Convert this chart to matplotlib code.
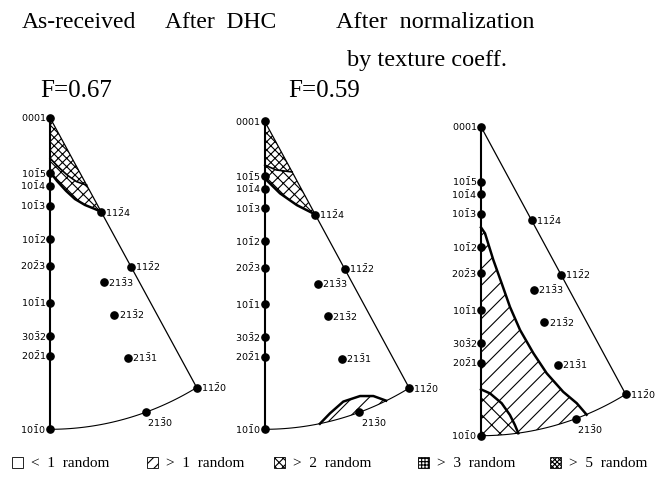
# Inverse pole figures (hcp Zr) - as-received, after DHC, normalised
import numpy as np
import matplotlib.pyplot as plt
from matplotlib.patches import Polygon, Rectangle

plt.rcParams['font.family'] = ['Liberation Serif', 'DejaVu Serif']
plt.rcParams['mathtext.fontset'] = 'dejavusans'
plt.rcParams['hatch.linewidth'] = 0.8

W, H = 660, 486
c_over_a = 1.593   # Zr

# poles (h k i l), i = -(h+k)
pole_h = [0, 1, 1, 1, 1, 2, 1, 3, 2, 1, 1, 1, 1, 2, 2, 2, 2]
pole_k = [0, 0, 0, 0, 0, 0, 0, 0, 0, 0, 1, 1, 1, 1, 1, 1, 1]
pole_l = [1, 5, 4, 3, 2, 3, 1, 2, 1, 0, 4, 2, 0, 3, 2, 1, 0]

titles = ['As-received', 'After  DHC', 'After  normalization']
subtitle = 'by texture coeff.'
f_values = ['F=0.67', 'F=0.59']

# contour boundaries (projection coords)
p1_gt2_x = [0, 0.024, 0.055, 0.085, 0.119, 0.153, 0.1745]
p1_gt2_y = [-0.174, -0.203, -0.235, -0.261, -0.280, -0.293, -0.302]
p1_gt3_x = [0, 0.03, 0.06, 0.09, 0.125]
p1_gt3_y = [-0.13, -0.16, -0.185, -0.205, -0.2165]

p2_gt2_x = [0, 0.053, 0.111, 0.157, 0.1745]
p2_gt2_y = [-0.185, -0.234, -0.272, -0.294, -0.302]
p2_gt3_x = [0, 0.04, 0.095]
p2_gt3_y = [-0.142, -0.158, -0.1645]
p2_gt1_x = [0.191, 0.226, 0.272, 0.330, 0.376, 0.420]
p2_gt1_y = [-0.982, -0.948, -0.910, -0.892, -0.892, -0.907]

p3_gt1_x = [0, 0.0138, 0.0425, 0.0715, 0.100, 0.135, 0.181, 0.227, 0.284, 0.331, 0.365]
p3_gt1_y = [-0.326, -0.345, -0.431, -0.507, -0.583, -0.658, -0.733, -0.798, -0.858, -0.895, -0.932]
p3_gt2_x = [0, 0.031, 0.0715, 0.100, 0.117, 0.129]
p3_gt2_y = [-0.850, -0.863, -0.895, -0.933, -0.965, -0.992]

legend_labels = ['<  1  random', '>  1  random', '>  2  random', '>  3  random', '>  5  random']
legend_hatch = ['', '///', 'xxxx', '+++++', 'xxxxxxx']


def project(h, k, l):
    # stereographic projection, 0001 at centre, 10-10 straight down
    gx = h + 0.5 * k
    gy = np.sqrt(3) / 2 * k
    g = np.hypot(gx, gy) * 2 / np.sqrt(3) * c_over_a
    phi = np.arctan2(g, l)
    psi = np.arctan2(gy, gx)
    r = np.tan(phi / 2)
    return r * np.sin(psi), -r * np.cos(psi)


def arc(p0, p1, n=40):
    t = np.linspace(p0, p1, n)
    return np.sin(t), -np.cos(t)


def label(h, k, l):
    i = -(h + k)
    if i == 0:
        return '$%d%d0%d$' % (h, k, l)
    return '$%d%d\\bar{%d}%d$' % (h, k, -i, l)


fig = plt.figure(figsize=(W / 100, H / 100), dpi=100)

xlim = (-0.35, 0.65)
ylim = (-1.12, 0.1)
origins = [(50, 117.7), (264.7, 121.3), (481, 126.7)]
scales = [(293.4, 311.6), (289, 308), (289.4, 309)]

axes = []
for (ox, oy), (sx, sy) in zip(origins, scales):
    left = (ox + sx * xlim[0]) / W
    bottom = 1 - (oy - sy * ylim[0]) / H
    ax = fig.add_axes([left, bottom, sx * (xlim[1] - xlim[0]) / W,
                       sy * (ylim[1] - ylim[0]) / H])
    ax.set_xlim(xlim)
    ax.set_ylim(ylim)
    ax.axis('off')
    axes.append(ax)


def region(ax, xs, ys, hatch, face='none'):
    poly = Polygon(np.column_stack([xs, ys]), closed=True, facecolor=face,
                   edgecolor='black', lw=0, hatch=hatch, zorder=1)
    ax.add_patch(poly)


def top_region(ax, cx, cy, hatch, face='none', lw=1.8):
    # region bounded by left edge, a curve and the 0001-11-20 edge
    xs = [0] + list(cx)
    ys = [0] + list(cy)
    region(ax, xs, ys, hatch, face)
    ax.plot(cx, cy, color='black', lw=lw, zorder=3)


def bottom_region(ax, cx, cy, hatch, face='none', to_corner=False):
    # region bounded by a curve and the primitive circle
    a0 = np.arctan2(cx[0], -cy[0])
    a1 = np.arctan2(cx[-1], -cy[-1])
    ax_, ay_ = arc(a1, 0 if to_corner else a0)
    xs = list(cx) + list(ax_)
    ys = list(cy) + list(ay_)
    region(ax, xs, ys, hatch, face)
    ax.plot(cx, cy, color='black', lw=1.8, zorder=3)


for ax in axes:
    # triangle edges
    x11, y11 = project(1, 1, 0)
    ax.plot([0, 0], [0, -1], color='black', lw=1.5, zorder=2)
    ax.plot([0, x11], [0, y11], color='black', lw=0.9, zorder=2)
    bx, by = arc(0, np.pi / 6)
    ax.plot(bx, by, color='black', lw=0.8, zorder=2)

# contoured regions
top_region(axes[0], p1_gt2_x, p1_gt2_y, 'xxx', 'white')
top_region(axes[0], p1_gt3_x, p1_gt3_y, 'xxxx', 'white', lw=1.2)
top_region(axes[1], p2_gt2_x, p2_gt2_y, 'xxx', 'white')
top_region(axes[1], p2_gt3_x, p2_gt3_y, 'xxxx', 'white', lw=1.2)
bottom_region(axes[1], p2_gt1_x, p2_gt1_y, '//')
bottom_region(axes[2], p3_gt1_x, p3_gt1_y, '//', to_corner=True)
bottom_region(axes[2], p3_gt2_x, p3_gt2_y, 'xx', 'white', to_corner=True)

# poles
for ax in axes:
    for h, k, l in zip(pole_h, pole_k, pole_l):
        x, y = project(h, k, l)
        ax.plot(x, y, 'o', ms=5.2, color='black', zorder=4, clip_on=False)
        if k == 0:
            off, ha, va = (-3, 0), 'right', 'center'
        elif l == 0 and h == 2:
            off, ha, va = (1, -3), 'left', 'top'
        else:
            off, ha, va = (3, 0), 'left', 'center'
        ax.annotate(label(h, k, l), (x, y), xytext=off, textcoords='offset points',
                    ha=ha, va=va, fontsize=6.8, zorder=5)

# titles
fig.text(79 / W, 1 - 28 / H, titles[0], ha='center', va='baseline', fontsize=17)
fig.text(221 / W, 1 - 28 / H, titles[1], ha='center', va='baseline', fontsize=17)
fig.text(435 / W, 1 - 28 / H, titles[2], ha='center', va='baseline', fontsize=17.5)
fig.text(427 / W, 1 - 66 / H, subtitle, ha='center', va='baseline', fontsize=17.5)
fig.text(76 / W, 1 - 97 / H, f_values[0], ha='center', va='baseline', fontsize=18)
fig.text(324 / W, 1 - 97 / H, f_values[1], ha='center', va='baseline', fontsize=18)

# legend
lax = fig.add_axes([0, 0, 1, 1])
lax.set_xlim(0, W)
lax.set_ylim(H, 0)
lax.axis('off')
box_x = [12, 147, 274, 418, 550]
for bx0, lab, hat in zip(box_x, legend_labels, legend_hatch):
    lax.add_patch(Rectangle((bx0, 457), 11, 11, facecolor='white', edgecolor='black',
                            lw=0.6, hatch=hat))
    lax.text(bx0 + 19, 463, lab, ha='left', va='center', fontsize=11)

fig.savefig('out.png', dpi=100)
